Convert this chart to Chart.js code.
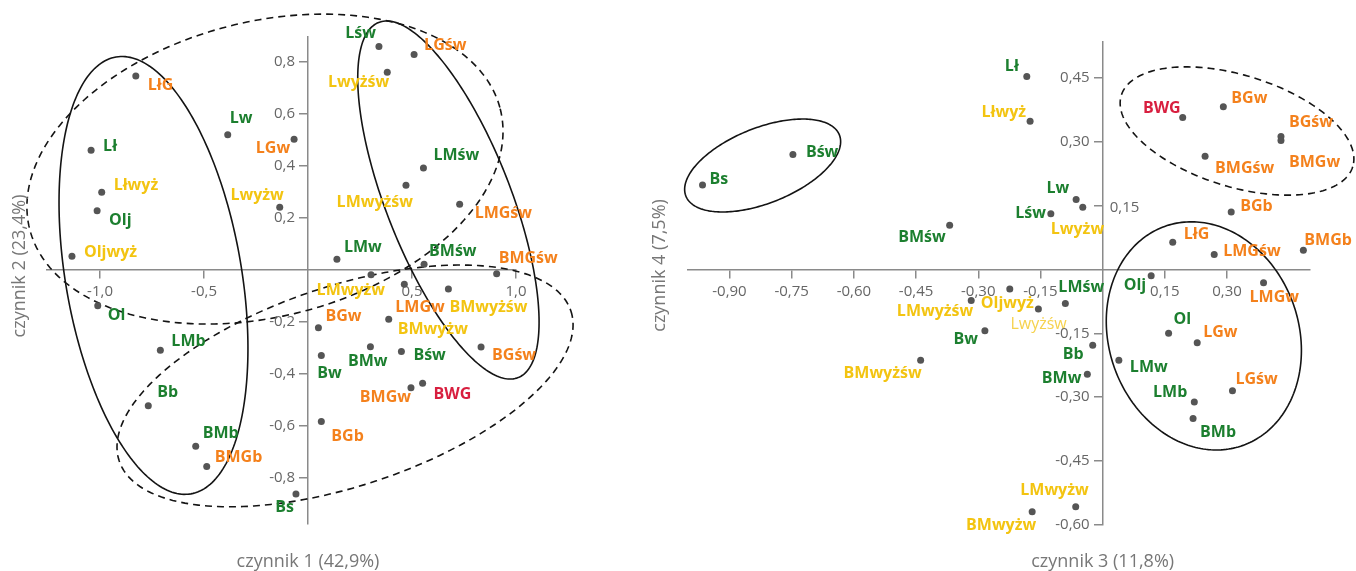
<!DOCTYPE html>
<html>
<head>
<meta charset="utf-8">
<script src="https://cdn.jsdelivr.net/npm/chart.js@4.4.1/dist/chart.umd.min.js"></script>
<style>
  html, body { margin: 0; padding: 0; background: #fff; }
  .wrap { display: flex; width: 1356px; height: 571px; }
  canvas { display: block; }
</style>
</head>
<body>
<div class="wrap">
  <canvas id="leftChart" width="650" height="571"></canvas>
  <canvas id="rightChart" width="706" height="571"></canvas>
</div>
<script>
// sample names and groups
const names = ['LłG','Lw','LGw','Lł','Lłwyż','Olj','Lwyżw','Oljwyż','Lśw','LGśw','Lwyżśw','LMśw','LMwyżśw','LMGśw','LMw',
  'BMśw','BMGśw','LMwyżw','LMGw','BMwyżśw','BMwyżw','BGw','BMw','Bśw','Bw','BGśw','BMGw','BWG','BGb','Bs','Ol','LMb','Bb','BMb','BMGb'];
const groups = ['G','g','G','g','y','g','y','y','g','G','y','g','y','G','g',
  'g','G','y','G','y','y','G','g','g','g','G','G','r','G','g','g','g','g','g','G'];

// factor loadings
const factor1 = [-0.828,-0.386,-0.067,-1.043,-0.992,-1.014,-0.136,-1.135,0.341,0.510,0.381,0.555,0.471,0.729,0.139,
  0.558,0.907,0.303,0.463,0.675,0.388,0.050,0.300,0.449,0.064,0.832,0.495,0.551,0.064,-0.058,-1.011,-0.710,-0.768,-0.540,-0.487];
const factor2 = [0.746,0.520,0.503,0.460,0.299,0.228,0.241,0.053,0.859,0.829,0.760,0.392,0.326,0.253,0.041,
  0.022,-0.015,-0.018,-0.055,-0.073,-0.190,-0.222,-0.295,-0.314,-0.329,-0.296,-0.453,-0.436,-0.583,-0.862,-0.138,-0.309,-0.522,-0.678,-0.756];
const factor3 = [0.169,-0.064,0.228,-0.183,-0.175,0.117,-0.048,-0.224,-0.125,0.313,-0.155,-0.090,-0.317,0.269,0.039,
  -0.369,0.247,-0.065,0.388,-0.439,-0.170,0.291,-0.037,-0.747,-0.284,0.430,0.430,0.193,0.310,-0.965,0.159,0.221,-0.024,0.218,0.484];
const factor4 = [0.064,0.164,-0.172,0.453,0.348,-0.015,0.146,-0.046,0.131,-0.285,-0.093,-0.080,-0.073,0.035,-0.213,
  0.104,0.266,-0.557,-0.031,-0.213,-0.569,0.382,-0.246,0.270,-0.144,0.312,0.303,0.357,0.135,0.198,-0.150,-0.311,-0.178,-0.350,0.045];

const xTicksLeft = [-1.0, -0.5, 0.5, 1.0];
const yTicksLeft = [-0.8, -0.6, -0.4, -0.2, 0.2, 0.4, 0.6, 0.8];
const xTicksRight = [-0.90, -0.75, -0.60, -0.45, -0.30, -0.15, 0.15, 0.30];
const yTicksRight = [-0.60, -0.45, -0.30, -0.15, 0.15, 0.30, 0.45];

// group ellipses: centre and two semi-axis vectors, in factor units
const ellipsesLeft = [
  { c: [-0.743, -0.021], a: [-0.180, 0.840], b: [0.417, 0.057], dashed: false },
  { c: [-0.207, 0.388], a: [1.131, 0.232], b: [0.176, -0.549], dashed: true },
  { c: [0.675, 0.269], a: [0.335, -0.683], b: [0.279, 0.087], dashed: false },
  { c: [0.178, -0.446], a: [1.086, 0.288], b: [0.151, -0.365], dashed: true }
];
const ellipsesRight = [
  { c: [-0.820, 0.244], a: [0.185, 0.072], b: [0.034, -0.082], dashed: false },
  { c: [0.324, 0.325], a: [0.279, -0.084], b: [-0.040, -0.125], dashed: true },
  { c: [0.244, -0.156], a: [0.100, -0.255], b: [0.213, 0.082], dashed: false }
];

// label offsets from each point: [dx, dy, anchor]
const placeLeft = [[12,9,'l'],[2,-16,'l'],[-4,9,'r'],[12,-4,'l'],[12,-7,'l'],[12,10,'l'],[4,-12,'r'],[12,-4,'l'],
  [-3,-13,'r'],[10,-9,'l'],[2,10,'r'],[10,-13,'l'],[7,17,'r'],[15,9,'l'],[7,-12,'l'],[5,-13,'l'],[2,-15,'l'],
  [14,16,'r'],[-9,23,'l'],[1,18,'l'],[9,10,'l'],[7,-11,'l'],[17,15,'r'],[12,4,'l'],[-4,18,'l'],[11,9,'l'],
  [0,10,'r'],[11,11,'l'],[10,15,'l'],[-2,13,'r'],[10,10,'l'],[11,-9,'l'],[9,-13,'l'],[7,-13,'l'],[8,-9,'l']];
const placeRight = [[11,-8,'l'],[-7,-11,'r'],[6,-10,'l'],[-8,-10,'r'],[-4,-9,'r'],[-5,10,'r'],[-32,22,'l'],[-29,14,'l'],
  [-5,0,'r'],[3,-11,'l'],[-28,15,'l'],[-7,-16,'l'],[2,11,'r'],[9,-3,'l'],[11,7,'l'],[-4,12,'r'],[10,12,'l'],
  [13,-16,'r'],[-14,15,'l'],[1,13,'r'],[4,14,'r'],[8,-8,'l'],[-6,4,'r'],[13,-2,'l'],[-7,9,'r'],[8,-14,'l'],
  [8,22,'l'],[-2,-9,'r'],[9,-6,'l'],[7,-6,'l'],[5,-14,'l'],[-7,-9,'r'],[-9,9,'r'],[7,14,'l'],[1,-10,'l']];

const groupColors = { g: '#1c7f2f', G: '#f4811c', y: '#f3c411', r: '#d81f3f' };
const axisColor = '#8a8a8a';
const textColor = '#666';

const fmt = (v, d) => v.toFixed(d).replace('.', ',');

const decorPlugin = {
  id: 'decor',
  beforeDatasetsDraw(chart, args, opts) {
    const ctx = chart.ctx;
    const xs = chart.scales.x, ys = chart.scales.y;
    ctx.save();
    ctx.strokeStyle = '#141414';
    ctx.lineWidth = 1.6;
    opts.ellipses.forEach(e => {
      ctx.beginPath();
      for (let k = 0; k <= 240; k++) {
        const t = k / 240 * Math.PI * 2;
        const vx = e.c[0] + e.a[0] * Math.cos(t) + e.b[0] * Math.sin(t);
        const vy = e.c[1] + e.a[1] * Math.cos(t) + e.b[1] * Math.sin(t);
        const px = xs.getPixelForValue(vx), py = ys.getPixelForValue(vy);
        if (k === 0) ctx.moveTo(px, py); else ctx.lineTo(px, py);
      }
      ctx.closePath();
      ctx.setLineDash(e.dashed ? [7, 5] : []);
      ctx.stroke();
    });
    ctx.restore();
  },
  afterDatasetsDraw(chart, args, opts) {
    const ctx = chart.ctx;
    const meta = chart.getDatasetMeta(0);
    ctx.save();
    ctx.textBaseline = 'middle';
    meta.data.forEach((pt, i) => {
      const [dx, dy, al] = opts.place[i];
      const faint = opts.faint.includes(names[i]);
      ctx.font = (faint ? '400' : '700') + ' 16px "Open Sans"';
      ctx.fillStyle = faint ? '#f6d24e' : groupColors[groups[i]];
      ctx.textAlign = al === 'l' ? 'left' : 'right';
      ctx.fillText(names[i], pt.x + dx, pt.y + dy);
    });
    ctx.restore();
  },
  afterDraw(chart, args, opts) {
    const ctx = chart.ctx;
    const ys = chart.scales.y;
    const x0 = chart.scales.x.getPixelForValue(0);
    const y0 = ys.getPixelForValue(0);
    ctx.save();
    // y tick labels, beside the crossing axis
    ctx.fillStyle = textColor;
    ctx.font = '15px "Open Sans"';
    ctx.textBaseline = 'middle';
    opts.yTicks.forEach(v => {
      const onRight = opts.rightTick !== null && Math.abs(v - opts.rightTick) < 1e-6;
      ctx.textAlign = onRight ? 'left' : 'right';
      ctx.fillText(fmt(v, opts.digits), onRight ? x0 + 7 : x0 - 13, ys.getPixelForValue(v) + (onRight ? 2 : 0));
    });
    // axis titles
    ctx.fillStyle = '#777';
    ctx.font = '18px "Open Sans"';
    ctx.textAlign = 'center';
    ctx.fillText(opts.xTitle, x0, 562);
    ctx.translate(opts.yTitleX, y0 - 4);
    ctx.rotate(-Math.PI / 2);
    ctx.fillText(opts.yTitle, 0, 0);
    ctx.restore();
  }
};

function makeScale(axis, min, max, tickList, digits) {
  return {
    type: 'linear',
    position: axis === 'x' ? { y: 0 } : { x: 0 },
    min: min,
    max: max,
    afterBuildTicks: s => { s.ticks = tickList.map(v => ({ value: v })); },
    grid: { drawOnChartArea: false, drawTicks: true, tickLength: 8, color: axisColor, lineWidth: 1.5 },
    border: { display: true, color: axisColor, width: 1.5 },
    ticks: {
      display: axis === 'x',
      autoSkip: false,
      maxRotation: 0,
      padding: 5,
      color: textColor,
      font: { family: 'Open Sans', size: 15 },
      callback: v => fmt(v, digits)
    }
  };
}

function buildChart(id, xs, ys, cfg) {
  return new Chart(document.getElementById(id), {
    type: 'scatter',
    data: {
      datasets: [{
        data: xs.map((v, i) => ({ x: v, y: ys[i] })),
        pointRadius: 3.5,
        pointHoverRadius: 3.5,
        pointBackgroundColor: '#555',
        pointBorderWidth: 0,
        clip: false
      }]
    },
    options: {
      responsive: false,
      animation: false,
      devicePixelRatio: 1,
      layout: { padding: cfg.padding },
      scales: {
        x: makeScale('x', cfg.xMin, cfg.xMax, cfg.xTicks, cfg.digits),
        y: makeScale('y', cfg.yMin, cfg.yMax, cfg.yTicks, cfg.digits)
      },
      plugins: {
        legend: { display: false },
        tooltip: { enabled: false },
        decor: {
          ellipses: cfg.ellipses,
          place: cfg.place,
          faint: cfg.faint,
          yTicks: cfg.yTicks,
          digits: cfg.digits,
          xTitle: cfg.xTitle,
          yTitle: cfg.yTitle,
          yTitleX: cfg.yTitleX,
          rightTick: cfg.rightTick
        }
      }
    },
    plugins: [decorPlugin]
  });
}

buildChart('leftChart', factor1, factor2, {
  padding: { left: 47, right: 134, top: 37, bottom: 47 },
  xMin: -1.255, xMax: 1.0, yMin: -0.977, yMax: 0.896,
  xTicks: xTicksLeft, yTicks: yTicksLeft, digits: 1,
  ellipses: ellipsesLeft, place: placeLeft, faint: [],
  xTitle: 'czynnik 1 (42,9%)', yTitle: 'czynnik 2 (23,4%)', yTitleX: 20,
  rightTick: null
});

buildChart('rightChart', factor3, factor4, {
  padding: { left: 38, right: 46, top: 42, bottom: 46 },
  xMin: -1.0, xMax: 0.5, yMin: -0.6, yMax: 0.534,
  xTicks: xTicksRight, yTicks: yTicksRight, digits: 2,
  ellipses: ellipsesRight, place: placeRight, faint: ['Lwyżśw'],
  xTitle: 'czynnik 3 (11,8%)', yTitle: 'czynnik 4 (7,5%)', yTitleX: 10,
  rightTick: 0.15
});
</script>
</body>
</html>
